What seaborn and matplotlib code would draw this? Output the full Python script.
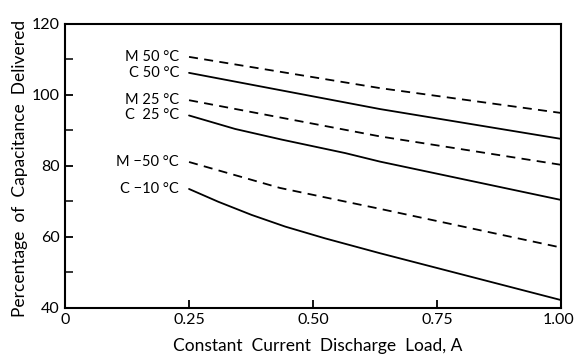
import matplotlib
matplotlib.use("Agg")
import matplotlib.pyplot as plt
import matplotlib.transforms as mtransforms
import seaborn as sns
import pandas as pd

sns.set_theme(style="white")
plt.rcParams['font.family'] = ['Lato', 'DejaVu Sans']

# Data
labels = ["M 50 °C", "C 50 °C", "M 25 °C", "C  25 °C", "M −50 °C", "C −10 °C"]
styles = ["dashed", "solid", "dashed", "solid", "dashed", "solid"]
m50_x = [0.25, 0.635, 1.0]
m50_y = [110.7, 101.9, 94.9]
c50_x = [0.25, 0.635, 1.0]
c50_y = [106.2, 96.0, 87.6]
m25_x = [0.25, 0.635, 1.0]
m25_y = [98.5, 88.3, 80.3]
c25_x = [0.25, 0.343, 0.437, 0.565, 0.635, 1.0]
c25_y = [94.2, 90.4, 87.4, 83.6, 81.2, 70.4]
mm50_x = [0.25, 0.433, 0.635, 1.0]
mm50_y = [81.1, 73.8, 67.9, 57.0]
cm10_x = [0.25, 0.309, 0.376, 0.444, 0.524, 0.635, 1.0]
cm10_y = [73.5, 69.9, 66.2, 62.9, 59.6, 55.4, 42.2]

xs = [m50_x, c50_x, m25_x, c25_x, mm50_x, cm10_x]
ys = [m50_y, c50_y, m25_y, c25_y, mm50_y, cm10_y]

xticks = [0, 0.25, 0.5, 0.75, 1.0]
xticklabels = ["0", "0.25", "0.50", "0.75", "1.00"]
yticks = [40, 60, 80, 100, 120]
yminor = [50, 70, 90, 110]

fig = plt.figure(figsize=(5.75, 3.56), dpi=100)
ax = fig.add_axes([0.113, 0.135, 0.863, 0.798])

for lab, st, x, y in zip(labels, styles, xs, ys):
    df = pd.DataFrame({"x": x, "y": y})
    ls = (0, (5, 3.5)) if st == "dashed" else "-"
    sns.lineplot(data=df, x="x", y="y", ax=ax, color="black", linewidth=1.3,
                 linestyle=ls, estimator=None, sort=False)
    ax.text(0.23, y[0], lab, ha="right", va="center", fontsize=10.5, color="black")

ax.set_xlim(0, 1.0)
ax.set_ylim(40, 120)
ax.set_xticks(xticks)
ax.set_xticklabels(xticklabels)
ax.set_yticks(yticks)
ax.set_yticks(yminor, minor=True)
ax.tick_params(axis="both", which="major", direction="in", length=6, width=1.3,
               labelsize=11.5, colors="black", pad=4)
ax.tick_params(axis="y", which="minor", direction="in", length=6, width=1.3, left=True)
ax.tick_params(axis="x", which="major", bottom=True)
ax.tick_params(axis="y", which="major", left=True)
for s in ax.spines.values():
    s.set_visible(True)
    s.set_color("black")
    s.set_linewidth(1.5)

# nudge last x tick label left so it stays inside the figure
last = ax.get_xticklabels()[-1]
last.set_transform(last.get_transform() + mtransforms.ScaledTranslation(-3/100, 0, fig.dpi_scale_trans))

ax.set_xlabel("Constant  Current  Discharge  Load, A", fontsize=12.5, color="black")
ax.set_ylabel("Percentage  of  Capacitance  Delivered", fontsize=12.5, color="black")
ax.xaxis.set_label_coords(0.51, -0.105)
ax.yaxis.set_label_coords(-0.075, 0.49)

fig.savefig("out.png", dpi=100)
